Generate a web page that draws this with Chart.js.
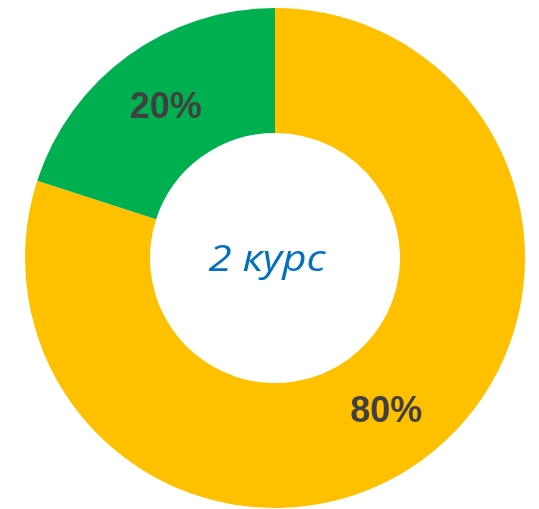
<!DOCTYPE html>
<html>
<head>
<meta charset="utf-8">
<script src="https://cdn.jsdelivr.net/npm/chart.js@4"></script>
<style>
	html, body { margin: 0; padding: 0; background: #ffffff; }
	#wrap { width: 539px; height: 509px; position: relative; }
</style>
</head>
<body>
<div id="wrap"><canvas id="course"></canvas></div>
<script>
var categories = ['Да', 'Нет'];
var values = [80, 20];
var sliceColors = ['#FFC000', '#00B050'];
var centerTitle = '2 курс';

// подписи в процентах посередине кольца
var sliceLabels = {
	id: 'sliceLabels',
	afterDatasetsDraw: function(chart) {
		var ctx = chart.ctx;
		var meta = chart.getDatasetMeta(0);
		var total = values.reduce(function(a, b) { return a + b; }, 0);
		ctx.save();
		ctx.font = 'bold 36px "Liberation Sans", Arial, sans-serif';
		ctx.fillStyle = '#404040';
		ctx.textAlign = 'center';
		ctx.textBaseline = 'middle';
		meta.data.forEach(function(arc, i) {
			var pos = arc.tooltipPosition();
			ctx.fillText(Math.round(values[i] / total * 100) + '%', pos.x + 1, pos.y + 2);
		});
		ctx.restore();
	}
};

// надпись в центре (шрифт в оригинале шире, растягиваем по x)
var centerText = {
	id: 'centerText',
	afterDatasetsDraw: function(chart) {
		var ctx = chart.ctx;
		var arc = chart.getDatasetMeta(0).data[0];
		ctx.save();
		ctx.translate(arc.x - 8, arc.y + 3);
		ctx.scale(1.17, 1);
		ctx.font = 'italic 36px "Open Sans", sans-serif';
		ctx.fillStyle = '#0070C0';
		ctx.textAlign = 'center';
		ctx.textBaseline = 'middle';
		ctx.fillText(centerTitle, 0, 0);
		ctx.restore();
	}
};

var course_chart = document.getElementById('course').getContext('2d');
var course = new Chart(course_chart, {
	type: 'doughnut',
	data: {
		labels: categories,
		datasets: [{
			data: values,
			backgroundColor: sliceColors,
			borderWidth: 0
		}]
	},
	options: {
		responsive: true,
		maintainAspectRatio: false,
		animation: false,
		cutout: '50%',
		layout: {
			padding: { top: 8, bottom: 1, left: 25, right: 14 }
		},
		plugins: {
			legend: { display: false },
			tooltip: { enabled: false }
		}
	},
	plugins: [sliceLabels, centerText]
});
</script>
</body>
</html>
